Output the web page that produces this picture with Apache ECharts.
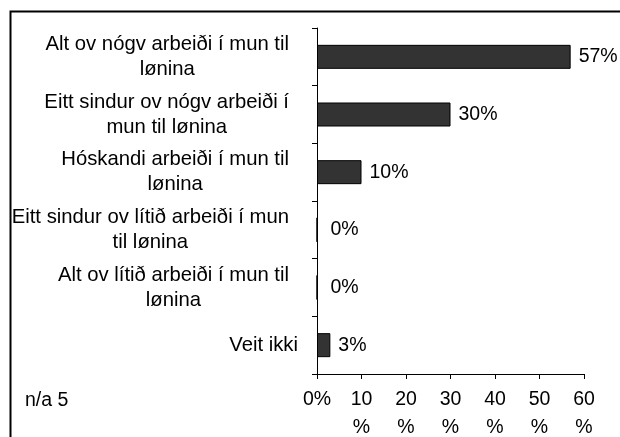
<!DOCTYPE html>
<html>
<head>
<meta charset="utf-8">
<script src="https://cdn.jsdelivr.net/npm/echarts@6/dist/echarts.min.js"></script>
<style>
  html, body { margin: 0; padding: 0; background: #fff; }
  #chart { width: 620px; height: 437px; }
</style>
</head>
<body>
<div id="chart"></div>
<script>
// data
const categories = [
  'Alt ov nógv arbeiði í mun til\nlønina',
  'Eitt sindur ov nógv arbeiði í\nmun til lønina',
  'Hóskandi arbeiði í mun til\nlønina',
  'Eitt sindur ov lítið arbeiði í mun\ntil lønina',
  'Alt ov lítið arbeiði í mun til\nlønina',
  'Veit ikki'
];
const values = [57, 30, 10, 0, 0, 3];
const tickLabels = ['0%', '10\n%', '20\n%', '30\n%', '40\n%', '50\n%', '60\n%'];
const noteText = 'n/a 5';

const FONT = 'Liberation Sans, Arial, sans-serif';
const CAT_SIZE = 20.3;
const CAT_LH = 25;

// centre the wrapped lines of each category label (Excel style):
// every line gets left/right padding so all tokens are as wide as the longest line
const ctx = document.createElement('canvas').getContext('2d');
ctx.font = CAT_SIZE + 'px ' + FONT;
const catRich = {};
categories.forEach((cat, i) => {
  const lines = cat.split('\n');
  const widths = lines.map(l => ctx.measureText(l).width);
  const maxW = Math.max(...widths);
  const extraRight = lines.length > 1 ? 9 : 0;
  lines.forEach((l, j) => {
    const pad = (maxW - widths[j]) / 2;
    catRich['l' + i + '_' + j] = {
      fontFamily: FONT, fontSize: CAT_SIZE, lineHeight: CAT_LH, color: '#000',
      padding: [0, pad + extraRight, 0, pad]
    };
  });
});

const chart = echarts.init(document.getElementById('chart'), null, { renderer: 'canvas' });

const option = {
  backgroundColor: '#ffffff',
  animation: false,
  grid: {
    left: 317, right: 36, top: 28, bottom: 63,
    containLabel: false,
    outerBoundsMode: 'none'
  },
  graphic: [
    {
      type: 'rect',
      left: 8, top: 9,
      shape: { width: 700, height: 500 },
      style: { fill: 'none', stroke: '#000', lineWidth: 2 },
      silent: true
    },
    {
      type: 'text',
      left: 25, top: 391,
      style: { text: noteText, font: '19.5px ' + FONT, fill: '#000' }
    }
  ],
  xAxis: {
    type: 'value',
    min: 0, max: 60, interval: 10,
    splitLine: { show: false },
    axisLine: { show: true, lineStyle: { color: '#000', width: 1 } },
    axisTick: { show: true, length: 5, lineStyle: { color: '#000' } },
    axisLabel: {
      color: '#000',
      fontFamily: FONT,
      fontSize: 19.5,
      lineHeight: 28,
      margin: 12,
      formatter: v => tickLabels[Math.round(v / 10)]
    }
  },
  yAxis: {
    type: 'category',
    inverse: true,
    data: categories,
    axisLine: { show: true, lineStyle: { color: '#000', width: 1 } },
    axisTick: { show: true, length: 5, lineStyle: { color: '#000' } },
    axisLabel: {
      color: '#000',
      fontFamily: FONT,
      fontSize: CAT_SIZE,
      lineHeight: CAT_LH,
      margin: 19,
      formatter: (v, idx) => v.split('\n').map((l, j) => '{l' + idx + '_' + j + '|' + l + '}').join('\n'),
      rich: catRich
    }
  },
  series: [
    {
      type: 'bar',
      data: values.map(v => ({
        value: v,
        label: { distance: v === 0 ? 13 : 8 }
      })),
      barWidth: 24,
      itemStyle: { color: '#333333', borderColor: '#000', borderWidth: 1 },
      label: {
        show: true,
        position: 'right',
        color: '#000',
        fontFamily: FONT,
        fontSize: 19.5,
        formatter: p => p.value + '%'
      }
    }
  ]
};

chart.setOption(option);
</script>
</body>
</html>
